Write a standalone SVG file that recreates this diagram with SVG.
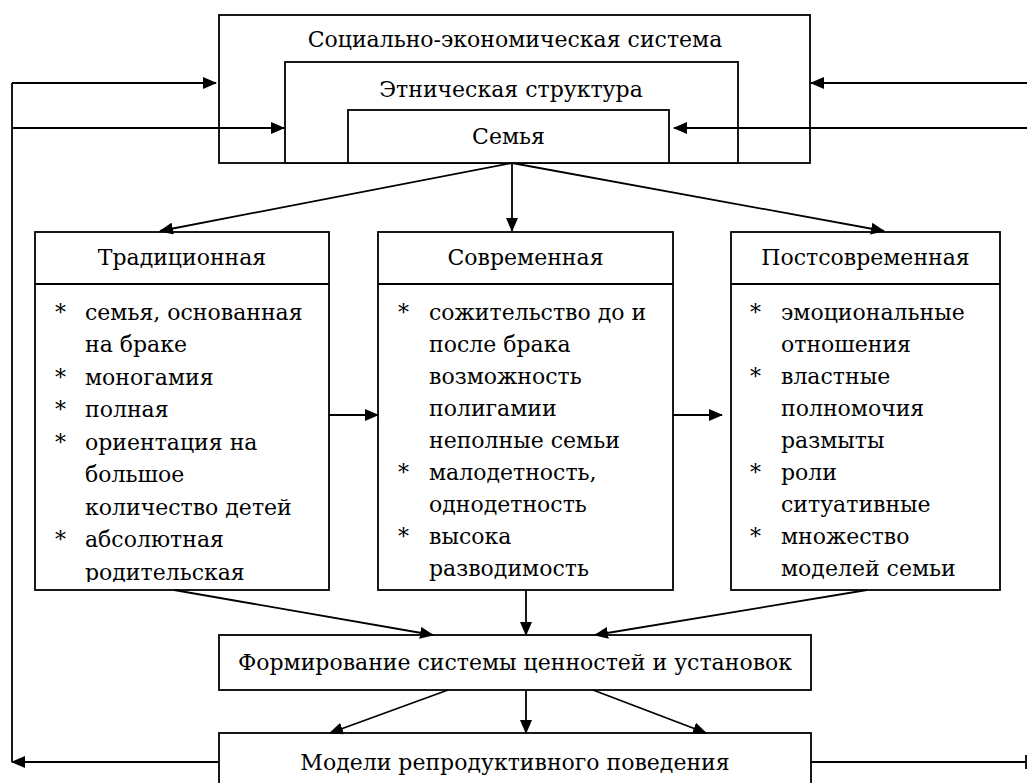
<svg xmlns="http://www.w3.org/2000/svg" width="1027" height="783" viewBox="0 0 1027 783">
<defs>
<marker id="ah" markerWidth="14" markerHeight="12" refX="13" refY="6" orient="auto" markerUnits="userSpaceOnUse">
<path d="M0,0 L14,6 L0,12 Z" fill="#000"/>
</marker>
<clipPath id="clipT"><rect x="35" y="284" width="294" height="298"/></clipPath>
</defs>
<style>
.box{fill:#fff;stroke:#000;stroke-width:1.8}
.ln{fill:none;stroke:#000;stroke-width:1.8}
.ar{fill:none;stroke:#000;stroke-width:1.8;marker-end:url(#ah)}
.c{text-anchor:middle}
</style>
<rect width="1027" height="783" fill="#fff"/>
<g font-family="DejaVu Serif, serif" font-size="22" fill="#000">
<g id="socio">
<rect class="box" x="219" y="15" width="591" height="148"/>
<text class="c" x="515" y="47">Социально-экономическая система</text>
</g>
<g id="ethnic">
<rect class="box" x="285" y="62" width="453" height="101"/>
<text class="c" x="511" y="97">Этническая структура</text>
</g>
<g id="family">
<rect class="box" x="348" y="110" width="321" height="53"/>
<text class="c" x="508.5" y="144">Семья</text>
</g>

<g id="traditional">
<rect class="box" x="35" y="232" width="294" height="358"/>
<line class="ln" x1="35" y1="284" x2="329" y2="284"/>
<text class="c" x="182" y="265">Традиционная</text>
<g clip-path="url(#clipT)">
<text x="55" y="320">*</text><text x="85" y="320">семья, основанная</text>
<text x="85" y="352">на браке</text>
<text x="55" y="384.5">*</text><text x="85" y="384.5">моногамия</text>
<text x="55" y="417">*</text><text x="85" y="417">полная</text>
<text x="55" y="449.5">*</text><text x="85" y="449.5">ориентация на</text>
<text x="85" y="482">большое</text>
<text x="85" y="514.5">количество детей</text>
<text x="55" y="547">*</text><text x="85" y="547">абсолютная</text>
<text x="85" y="579.5">родительская</text>
</g>
</g>

<g id="modern">
<rect class="box" x="378" y="232" width="295" height="358"/>
<line class="ln" x1="378" y1="284" x2="673" y2="284"/>
<text class="c" x="525.5" y="265">Современная</text>
<text x="398" y="320">*</text><text x="429" y="320">сожительство до и</text>
<text x="429" y="352">после брака</text>
<text x="429" y="384">возможность</text>
<text x="429" y="416">полигамии</text>
<text x="429" y="448">неполные семьи</text>
<text x="398" y="480">*</text><text x="429" y="480">малодетность,</text>
<text x="429" y="512">однодетность</text>
<text x="398" y="544">*</text><text x="429" y="544">высока</text>
<text x="429" y="576">разводимость</text>
</g>

<g id="postmodern">
<rect class="box" x="731" y="232" width="269" height="358"/>
<line class="ln" x1="731" y1="284" x2="1000" y2="284"/>
<text class="c" x="865.5" y="265">Постсовременная</text>
<text x="750" y="320">*</text><text x="781" y="320">эмоциональные</text>
<text x="781" y="352">отношения</text>
<text x="750" y="384">*</text><text x="781" y="384">властные</text>
<text x="781" y="416">полномочия</text>
<text x="781" y="448">размыты</text>
<text x="750" y="480">*</text><text x="781" y="480">роли</text>
<text x="781" y="512">ситуативные</text>
<text x="750" y="544">*</text><text x="781" y="544">множество</text>
<text x="781" y="576">моделей семьи</text>
</g>

<g id="formation">
<rect class="box" x="219" y="635" width="592" height="55"/>
<text class="c" x="515" y="670">Формирование системы ценностей и установок</text>
</g>

<g id="models">
<rect class="box" x="219" y="733" width="592" height="60"/>
<text class="c" x="515" y="770">Модели репродуктивного поведения</text>
</g>
</g>

<g id="connectors">
<line class="ar" x1="512" y1="163" x2="160" y2="231"/>
<line class="ar" x1="512" y1="163" x2="512" y2="231"/>
<line class="ar" x1="512" y1="163" x2="884" y2="231"/>
<line class="ar" x1="329" y1="415" x2="378" y2="415"/>
<line class="ar" x1="673" y1="415" x2="722" y2="415"/>
<line class="ar" x1="174" y1="590" x2="433" y2="635"/>
<line class="ar" x1="526" y1="590" x2="526" y2="635"/>
<line class="ar" x1="867" y1="590" x2="595" y2="635"/>
<line class="ar" x1="448" y1="690" x2="330" y2="733"/>
<line class="ar" x1="526" y1="690" x2="526" y2="733"/>
<line class="ar" x1="593" y1="690" x2="706" y2="733"/>
<polyline class="ln" points="12,83 12,762"/>
<line class="ar" x1="12" y1="83" x2="216" y2="83"/>
<line class="ar" x1="12" y1="128" x2="284" y2="128"/>
<line class="ar" x1="219" y1="762" x2="12" y2="762"/>
<line class="ar" x1="1027" y1="83" x2="811" y2="83"/>
<line class="ar" x1="1027" y1="128" x2="674" y2="128"/>
<line class="ln" x1="811" y1="762" x2="1026" y2="762"/>
<line class="ln" x1="1026" y1="755" x2="1026" y2="769"/>
</g>
</svg>
